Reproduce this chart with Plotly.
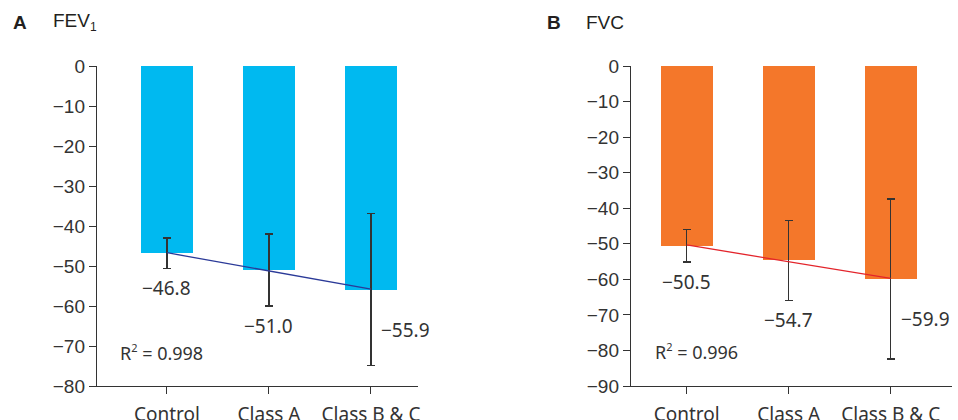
import numpy as np
import plotly.graph_objects as go

# Groups and percent change values
categories = ["Control", "Class A", "Class B & C"]
fev1_mean = [-46.8, -51.0, -55.9]
fev1_err = [3.8, 9.0, 19.0]
fvc_mean = [-50.5, -54.7, -59.9]
fvc_err = [4.6, 11.2, 22.5]
fev1_r2 = 0.998
fvc_r2 = 0.996
fev1_ticks = [0, -10, -20, -30, -40, -50, -60, -70, -80]
fvc_ticks = [0, -10, -20, -30, -40, -50, -60, -70, -80, -90]

BLUE = "#00B9F0"
ORANGE = "#F4772A"
NAVY = "#2B3A98"
RED = "#E3242B"
INK = "#333333"
TICK_FONT = dict(family="Liberation Sans, Arial", size=19, color=INK)
CAT_FONT = dict(family="Noto Sans", size=19, color=INK)
LABEL_FONT = dict(family="Noto Sans", size=19, color=INK)
TITLE_FONT = dict(family="Liberation Sans, Arial", size=19, color="#231F20")
R2_FONT = dict(family="Noto Sans", size=18, color=INK)


def fmt(v):
    return f"{v:.1f}".replace("-", "\u2212")


def tick_text(vals):
    return [str(v).replace("-", "\u2212") for v in vals]


def r2_text(v):
    return f"R<sup><span style='font-size:11px'>2</span></sup> = {v:.3f}"


fig = go.Figure()

panels = [
    dict(mean=fev1_mean, err=fev1_err, color=BLUE, line=NAVY, xa="x", ya="y"),
    dict(mean=fvc_mean, err=fvc_err, color=ORANGE, line=RED, xa="x2", ya="y2"),
]

for p in panels:
    fig.add_trace(go.Bar(
        x=categories, y=p["mean"], width=0.51, marker=dict(color=p["color"], line=dict(width=0)),
        error_y=dict(type="data", array=p["err"], visible=True, color=INK, thickness=1.4, width=4),
        xaxis=p["xa"], yaxis=p["ya"], showlegend=False, hoverinfo="skip",
    ))
    # linear trend across the three groups
    idx = np.arange(len(categories))
    slope, icpt = np.polyfit(idx, p["mean"], 1)
    fig.add_trace(go.Scatter(
        x=categories, y=slope * idx + icpt, mode="lines",
        line=dict(color=p["line"], width=1.3),
        xaxis=p["xa"], yaxis=p["ya"], showlegend=False, hoverinfo="skip",
    ))

annotations = []
for p in panels:
    for i, (c, m, e) in enumerate(zip(categories, p["mean"], p["err"])):
        if i < 2:
            annotations.append(dict(
                x=c, y=m - e, xref=p["xa"], yref=p["ya"], text=fmt(m),
                showarrow=False, xanchor="center", yanchor="middle", yshift=-20,
                font=LABEL_FONT,
            ))
        else:
            annotations.append(dict(
                x=c, y=m, xref=p["xa"], yref=p["ya"], text=fmt(m),
                showarrow=False, xanchor="left", yanchor="middle", xshift=8, yshift=-40,
                font=LABEL_FONT,
            ))

annotations += [
    dict(x=118 / 958, y=1 - 352 / 420, xref="paper", yref="paper", xanchor="left", yanchor="middle",
         text=r2_text(fev1_r2), showarrow=False, font=R2_FONT),
    dict(x=653 / 958, y=1 - 351 / 420, xref="paper", yref="paper", xanchor="left", yanchor="middle",
         text=r2_text(fvc_r2), showarrow=False, font=R2_FONT),
    dict(x=11 / 958, y=1 - 22 / 420, xref="paper", yref="paper", xanchor="left", yanchor="middle",
         text="<b>A</b>", showarrow=False, font=TITLE_FONT),
    dict(x=51 / 958, y=1 - 22 / 420, xref="paper", yref="paper", xanchor="left", yanchor="middle",
         text="FEV<sub><span style='font-size:12px'>1</span></sub>", showarrow=False, font=TITLE_FONT),
    dict(x=545 / 958, y=1 - 22 / 420, xref="paper", yref="paper", xanchor="left", yanchor="middle",
         text="<b>B</b>", showarrow=False, font=TITLE_FONT),
    dict(x=584 / 958, y=1 - 22 / 420, xref="paper", yref="paper", xanchor="left", yanchor="middle",
         text="FVC", showarrow=False, font=TITLE_FONT),
]

y_dom = [1 - 386 / 420, 1 - 66 / 420]
xaxis_common = dict(
    type="category", showline=True, linecolor=INK, linewidth=1.4, ticks="outside", ticklen=7,
    tickcolor=INK, tickwidth=1.4, showgrid=False, zeroline=False, tickfont=CAT_FONT,
    ticklabelstandoff=4, automargin=False, fixedrange=True,
)
yaxis_common = dict(
    showline=True, linecolor=INK, linewidth=1.4, ticks="outside", ticklen=7, tickcolor=INK,
    tickwidth=1.4, showgrid=False, zeroline=False, tickfont=TICK_FONT, domain=y_dom,
    automargin=False, fixedrange=True,
)

fig.update_layout(
    width=958, height=420, margin=dict(l=0, r=0, t=0, b=0, autoexpand=False),
    paper_bgcolor="white", plot_bgcolor="white", bargap=0,
    xaxis=dict(xaxis_common, domain=[97 / 958, 418 / 958], range=[-0.686, 2.461], anchor="y"),
    yaxis=dict(yaxis_common, range=[-80, 0], tickvals=fev1_ticks, ticktext=tick_text(fev1_ticks), anchor="x"),
    xaxis2=dict(xaxis_common, domain=[631 / 958, 952 / 958], range=[-0.546, 2.601], anchor="y2"),
    yaxis2=dict(yaxis_common, range=[-90, 0], tickvals=fvc_ticks, ticktext=tick_text(fvc_ticks), anchor="x2"),
    annotations=annotations,
)

fig.write_html("out.html")
